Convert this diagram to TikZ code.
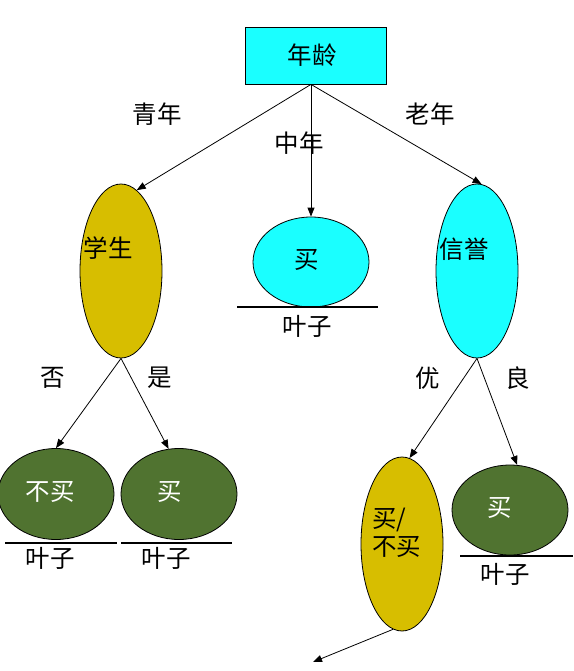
\documentclass[tikz,border=0pt]{standalone}
\usepackage{fontspec}
\newfontfamily\cjk{Noto Sans CJK SC}
\usetikzlibrary{shapes.geometric,arrows.meta}
\definecolor{mycyan}{RGB}{26,255,255}
\definecolor{myyellow}{RGB}{215,190,0}
\definecolor{mygreen}{RGB}{80,115,48}
\tikzset{
  lbl/.style={font=\cjk\fontsize{24.5}{28}\selectfont, inner sep=0pt},
  wlbl/.style={lbl, text=white},
  oval/.style={ellipse, draw=black, line width=0.8pt, inner sep=0pt},
  yoval/.style={oval, fill=myyellow, minimum width=82pt, minimum height=174pt},
  coval/.style={oval, fill=mycyan},
  goval/.style={oval, fill=mygreen, minimum width=116pt, minimum height=91pt},
  conn/.style={line width=0.8pt, -{Triangle[length=9pt,width=7pt]}},
  leafline/.style={line width=2pt}
}
\begin{document}
\begin{tikzpicture}[x=1pt,y=-1pt]
\useasboundingbox (0,0) rectangle (573,671);
% root
\node[draw=black, fill=mycyan, line width=0.8pt, minimum width=141pt, minimum height=57pt, inner sep=0pt] (root) at (315.5,55.5) {};
\node[lbl] (rootlbl) at (312,55) {年龄};
\coordinate (rootout) at ([xshift=-4.5pt]root.south);
% level 1
\node[yoval] (stud) at (121,271) {};
\node[coval, minimum width=116pt, minimum height=90pt] (buy) at (311,262) {};
\node[coval, minimum width=82pt, minimum height=174pt] (cred) at (477,271) {};
\node[lbl] (studlbl) at (108,248) {学生};
\node[lbl] (buylbl) at (307,260) {买};
\node[lbl] (credlbl) at (464,249) {信誉};
\coordinate (b1l) at (237,307); \coordinate (b1r) at (378,307);
\draw[leafline] (b1l) -- (b1r);
\node[lbl] (leaf1) at (307,326) {叶子};
% edge labels
\node[lbl] (young) at (157,114) {青年};
\node[lbl] (mid) at (299,143) {中年};
\node[lbl] (old) at (430,114) {老年};
\node[lbl] (no) at (53,378) {否};
\node[lbl] (yes) at (160,378) {是};
\node[lbl] (good) at (428,378) {优};
\node[lbl] (fair) at (518,378) {良};
% level 2
\node[goval] (g1) at (56,494) {};
\node[goval] (g2) at (179,494) {};
\node[yoval] (mixed) at (402,544) {};
\node[goval, minimum height=90pt] (g3) at (510,510) {};
\node[wlbl] (g1lbl) at (50,492) {不买};
\node[wlbl] (g2lbl) at (170,492) {买};
\node[wlbl] (g3lbl) at (500,508) {买};
\node[lbl, align=left, anchor=north west, font=\cjk\fontsize{24.5}{28}\selectfont] (mixedlbl) at (372,508) {买/\\不买};
\coordinate (l1a) at (5,543); \coordinate (l1b) at (117,543);
\coordinate (l2a) at (121,543); \coordinate (l2b) at (232,543);
\coordinate (l3a) at (460,556); \coordinate (l3b) at (573,556);
\draw[leafline] (l1a) -- (l1b);
\draw[leafline] (l2a) -- (l2b);
\draw[leafline] (l3a) -- (l3b);
\node[lbl] (leaf2) at (50,558) {叶子};
\node[lbl] (leaf3) at (166,558) {叶子};
\node[lbl] (leaf4) at (505,574) {叶子};
% connectors
\draw[conn] (rootout) -- (stud.79);
\draw[conn] (rootout) -- (buy.north);
\draw[conn] (rootout) -- (cred.87);
\draw[conn] (stud.south) -- (g1.north);
\draw[conn] (stud.south) -- (g2.103);
\draw[conn] (cred.south) -- (mixed.85);
\draw[conn] (cred.south) -- (g3.81);
\coordinate (loose) at (313,662);
\draw[conn] (mixed.264) -- (loose);
\end{tikzpicture}
\end{document}
